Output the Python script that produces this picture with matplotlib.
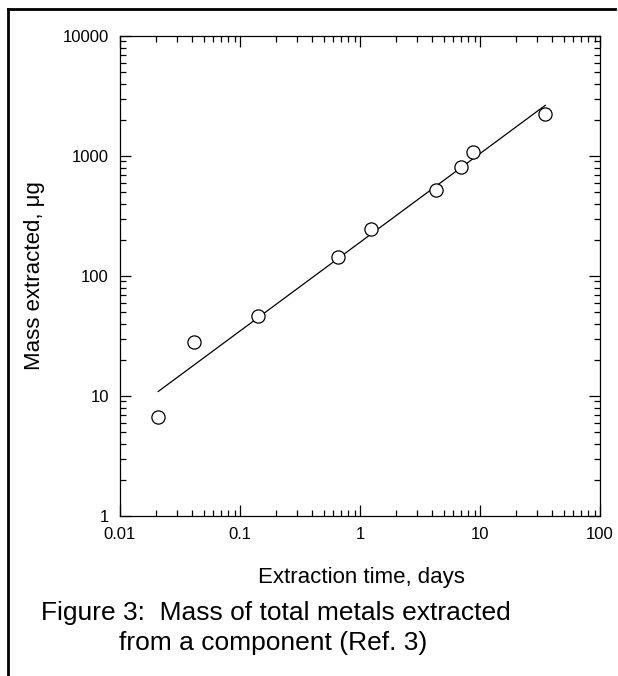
import matplotlib
matplotlib.use('Agg')
import matplotlib.pyplot as plt
from matplotlib.lines import Line2D
from matplotlib.ticker import FixedLocator, LogLocator, NullFormatter, FuncFormatter

plt.rcParams['font.family'] = ['Liberation Sans', 'DejaVu Sans']

# extraction data
days = [0.0208, 0.0414, 0.1405, 0.659, 1.235, 4.27, 6.95, 8.69, 35.0]
mass = [6.7, 28.2, 46.7, 143, 246, 521, 810, 1080, 2251]

# fitted line end points
fit_days = [0.0208, 35.0]
fit_mass = [10.9, 2645]

x_ticks = [0.01, 0.1, 1, 10, 100]
y_ticks = [1, 10, 100, 1000, 10000]

W, H = 618, 676
fig = plt.figure(figsize=(W / 100, H / 100), dpi=100)
ax = fig.add_axes([120 / W, 1 - 516 / H, 480 / W, 480 / H])

ax.plot(fit_days, fit_mass, color='black', lw=0.9)
ax.plot(days, mass, 'o', mfc='white', mec='black', ms=9.5, mew=0.9)

ax.set_xscale('log')
ax.set_yscale('log')
ax.set_xlim(0.01, 100)
ax.set_ylim(1, 10000)

fmt = FuncFormatter(lambda v, p: '%g' % v)
for axis, ticks in ((ax.xaxis, x_ticks), (ax.yaxis, y_ticks)):
    axis.set_major_locator(FixedLocator(ticks))
    axis.set_major_formatter(fmt)
    axis.set_minor_locator(LogLocator(base=10, subs=range(2, 10)))
    axis.set_minor_formatter(NullFormatter())

ax.tick_params(which='both', direction='in', top=True, right=True, width=0.9)
ax.tick_params(which='major', length=8, labelsize=12)
ax.tick_params(which='minor', length=4)
ax.tick_params(axis='x', which='major', pad=8)
ax.tick_params(axis='y', which='major', pad=8)
for s in ax.spines.values():
    s.set_linewidth(0.9)

# axis titles and caption
fig.text(361 / W, 1 - 578 / H, 'Extraction time, days', fontsize=16,
         ha='center', va='center')
fig.text(35 / W, 1 - 276 / H, 'Mass extracted, \u03bcg', fontsize=16,
         ha='center', va='center', rotation=90)
fig.text(276 / W, 1 - 613 / H, 'Figure 3:  Mass of total metals extracted',
         fontsize=19, ha='center', va='center')
fig.text(273 / W, 1 - 643 / H, 'from a component (Ref. 3)',
         fontsize=19, ha='center', va='center')

# page frame, top and left edges
fig.add_artist(Line2D([8 / W, 615 / W], [1 - 9 / H, 1 - 9 / H],
                      transform=fig.transFigure, color='black', lw=2))
fig.add_artist(Line2D([8 / W, 8 / W], [1 - 9 / H, 0],
                      transform=fig.transFigure, color='black', lw=2))

fig.savefig('out.png', dpi=100)
